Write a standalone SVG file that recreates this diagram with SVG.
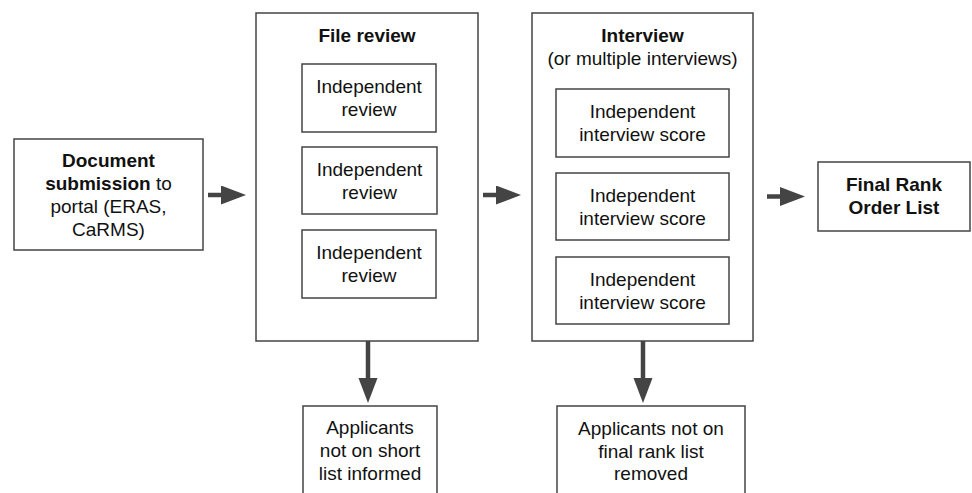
<svg xmlns="http://www.w3.org/2000/svg" width="972" height="493" viewBox="0 0 972 493">
<style>
.box{fill:#fff;stroke:#444;stroke-width:1.5}
text{font-family:"Liberation Sans",Arial,sans-serif;font-size:19px;fill:#111;text-anchor:middle}
.b{font-weight:bold}
.conn{stroke:#444;stroke-width:4.5;fill:none}
</style>
<defs>
<marker id="ah" markerUnits="userSpaceOnUse" markerWidth="26" markerHeight="20" refX="0" refY="9.5" orient="auto">
<path d="M0,0 L25,9.5 L0,19 Z" fill="#444"/>
</marker>
</defs>
<rect width="972" height="493" fill="#fff"/>
<g id="doc">
<rect class="box" x="14" y="139" width="189" height="111"/>
<text x="108.5" y="167" class="b">Document</text>
<text x="108.5" y="190"><tspan class="b">submission</tspan> to</text>
<text x="108.5" y="213">portal (ERAS,</text>
<text x="108.5" y="236">CaRMS)</text>
</g>
<g id="filereview">
<rect class="box" x="256" y="13" width="222" height="328"/>
<text x="367" y="42" class="b">File review</text>
</g>
<g id="review1">
<rect class="box" x="302" y="64" width="134" height="68"/>
<text x="369" y="93">Independent</text>
<text x="369" y="116">review</text>
</g>
<g id="review2">
<rect class="box" x="302" y="147" width="135" height="67"/>
<text x="369.5" y="176">Independent</text>
<text x="369.5" y="199">review</text>
</g>
<g id="review3">
<rect class="box" x="302" y="230" width="134" height="68"/>
<text x="369" y="259">Independent</text>
<text x="369" y="282">review</text>
</g>
<g id="interview">
<rect class="box" x="532" y="13" width="221" height="328"/>
<text x="642.5" y="42" class="b">Interview</text>
<text x="642.5" y="65">(or multiple interviews)</text>
</g>
<g id="score1">
<rect class="box" x="556" y="89" width="173" height="68"/>
<text x="642.5" y="118">Independent</text>
<text x="642.5" y="141">interview score</text>
</g>
<g id="score2">
<rect class="box" x="556" y="173" width="173" height="67"/>
<text x="642.5" y="202">Independent</text>
<text x="642.5" y="225">interview score</text>
</g>
<g id="score3">
<rect class="box" x="556" y="257" width="173" height="67"/>
<text x="642.5" y="286">Independent</text>
<text x="642.5" y="309">interview score</text>
</g>
<g id="final">
<rect class="box" x="818" y="162" width="152" height="69"/>
<text x="894" y="191" class="b">Final Rank</text>
<text x="894" y="214" class="b">Order List</text>
</g>
<g id="shortlist">
<rect class="box" x="303" y="406" width="134" height="100"/>
<text x="370" y="434">Applicants</text>
<text x="370" y="457">not on short</text>
<text x="370" y="480">list informed</text>
</g>
<g id="removed">
<rect class="box" x="557" y="406" width="188" height="100"/>
<text x="651" y="435">Applicants not on</text>
<text x="651" y="458">final rank list</text>
<text x="651" y="480">removed</text>
</g>
<g id="connectors">
<line class="conn" x1="208" y1="195" x2="221" y2="195" marker-end="url(#ah)"/>
<line class="conn" x1="483" y1="195" x2="496" y2="195" marker-end="url(#ah)"/>
<line class="conn" x1="767" y1="196.5" x2="780" y2="196.5" marker-end="url(#ah)"/>
<line class="conn" x1="368" y1="341" x2="368" y2="378" marker-end="url(#ah)"/>
<line class="conn" x1="643" y1="341" x2="643" y2="378" marker-end="url(#ah)"/>
</g>
</svg>
